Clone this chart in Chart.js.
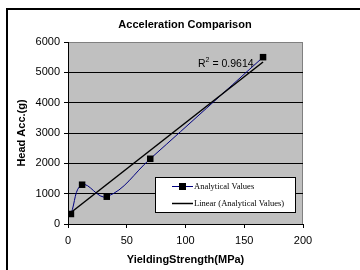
<!DOCTYPE html>
<html>
<head>
<meta charset="utf-8">
<script src="https://cdn.jsdelivr.net/npm/chart.js"></script>
<style>
  body { margin: 0; background: #fff; }
  #wrap { position: relative; width: 360px; height: 270px; }
</style>
</head>
<body>
<div id="wrap"><canvas id="accChart" width="360" height="270"></canvas></div>
<script>
// values
const strengthValues = [2.5, 12, 33, 70, 166];
const headAccValues = [330, 1295, 900, 2150, 5500];
// trendline end points (as drawn in the picture)
const trendX = [2.5, 166];
const trendY = [380, 5340];
const xTicks = [0, 50, 100, 150, 200];
const yTicks = [0, 1000, 2000, 3000, 4000, 5000, 6000];

const analyticalPoints = strengthValues.map((x, i) => ({ x: x, y: headAccValues[i] }));
const trendPoints = trendX.map((x, i) => ({ x: x, y: trendY[i] }));

// plot background, outer frame, title, R2 label and legend box
const decorPlugin = {
  id: "decor",
  beforeDraw(chart) {
    const { ctx, chartArea: a } = chart;
    ctx.save();
    ctx.fillStyle = "#fff";
    ctx.fillRect(0, 0, chart.width, chart.height);
    ctx.fillStyle = "#c0c0c0";
    ctx.fillRect(a.left, a.top, a.right - a.left, a.bottom - a.top);
    ctx.strokeStyle = "#808080";
    ctx.lineWidth = 1;
    ctx.strokeRect(a.left + 0.5, a.top + 0.5, a.right - a.left - 1, a.bottom - a.top);
    // outer chart frame (cropped on right and bottom)
    ctx.strokeStyle = "#000";
    ctx.lineWidth = 2;
    ctx.beginPath();
    ctx.moveTo(7, 280);
    ctx.lineTo(7, 9);
    ctx.lineTo(370, 9);
    ctx.stroke();
    ctx.restore();
  },
  afterDraw(chart) {
    const { ctx } = chart;
    ctx.save();
    ctx.fillStyle = "#000";
    ctx.textBaseline = "middle";
    ctx.textAlign = "center";
    ctx.font = "bold 11px Arial, 'Liberation Sans', sans-serif";
    ctx.fillText("Acceleration Comparison", 185, 25);

    // R squared label
    ctx.textAlign = "left";
    ctx.textBaseline = "alphabetic";
    ctx.font = "10.5px Arial, 'Liberation Sans', sans-serif";
    let x = 198;
    ctx.fillText("R", x, 67);
    x += ctx.measureText("R").width;
    ctx.font = "7px Arial, 'Liberation Sans', sans-serif";
    ctx.fillText("2", x, 62);
    x += ctx.measureText("2").width;
    ctx.font = "10.5px Arial, 'Liberation Sans', sans-serif";
    ctx.fillText(" = 0.9614", x, 67);

    // legend
    ctx.fillStyle = "#fff";
    ctx.fillRect(155, 177, 140, 35);
    ctx.strokeStyle = "#000";
    ctx.lineWidth = 1;
    ctx.strokeRect(155.5, 177.5, 140, 35);

    ctx.strokeStyle = "#000080";
    ctx.beginPath();
    ctx.moveTo(172, 186.5);
    ctx.lineTo(193, 186.5);
    ctx.stroke();
    ctx.fillStyle = "#000";
    ctx.fillRect(179, 183, 7, 7);

    ctx.strokeStyle = "#000";
    ctx.lineWidth = 1.5;
    ctx.beginPath();
    ctx.moveTo(172, 203.5);
    ctx.lineTo(193, 203.5);
    ctx.stroke();

    ctx.font = "8.5px 'Liberation Serif', 'Times New Roman', serif";
    ctx.textBaseline = "middle";
    ctx.fillText("Analytical Values", 194, 186.5);
    ctx.fillText("Linear (Analytical Values)", 194, 203.5);
    ctx.restore();
  },
};

new Chart(document.getElementById("accChart"), {
  type: "line",
  data: {
    datasets: [
      {
        label: "Linear (Analytical Values)",
        data: trendPoints,
        borderColor: "#000",
        borderWidth: 1.5,
        pointRadius: 0,
        tension: 0,
        order: 0,
      },
      {
        label: "Analytical Values",
        data: analyticalPoints,
        borderColor: "#000080",
        borderWidth: 1,
        tension: 0.4,
        pointStyle: "rect",
        pointRadius: 4.6,
        pointBackgroundColor: "#000",
        pointBorderColor: "#000",
        pointBorderWidth: 0,
        order: 1,
      },
    ],
  },
  options: {
    responsive: false,
    animation: false,
    layout: { padding: { top: 42, right: 57, left: 0, bottom: 0 } },
    plugins: {
      legend: { display: false },
      tooltip: { enabled: false },
      title: { display: false },
    },
    scales: {
      x: {
        type: "linear",
        min: 0,
        max: 200,
        afterFit(scale) {
          scale.height = 46;
        },
        afterBuildTicks(scale) {
          scale.ticks = xTicks.map((v) => ({ value: v }));
        },
        grid: {
          drawOnChartArea: false,
          tickLength: 4,
          tickColor: "#000",
        },
        border: { color: "#000", width: 1 },
        ticks: {
          color: "#000",
          padding: 6,
          maxRotation: 0,
          callback: (v) => String(v),
          font: { family: "Arial, 'Liberation Sans', sans-serif", size: 11 },
        },
        title: {
          display: true,
          text: "YieldingStrength(MPa)",
          color: "#000",
          padding: { top: 0, bottom: 3 },
          font: { family: "Arial, 'Liberation Sans', sans-serif", size: 11, weight: "bold" },
        },
      },
      y: {
        min: 0,
        max: 6000,
        afterFit(scale) {
          scale.width = 68;
        },
        afterBuildTicks(scale) {
          scale.ticks = yTicks.map((v) => ({ value: v }));
        },
        grid: {
          color: (c) => (c.tick && c.tick.value === 6000 ? "#808080" : "#000"),
          tickColor: "#000",
          tickLength: 4,
          lineWidth: 1,
        },
        border: { color: "#000", width: 1 },
        ticks: {
          color: "#000",
          padding: 4,
          callback: (v) => String(v),
          font: { family: "Arial, 'Liberation Sans', sans-serif", size: 11 },
        },
        title: {
          display: true,
          text: "Head Acc.(g)",
          color: "#000",
          padding: { top: 15, bottom: 0 },
          font: { family: "Arial, 'Liberation Sans', sans-serif", size: 11, weight: "bold" },
        },
      },
    },
  },
  plugins: [decorPlugin],
});
</script>
</body>
</html>
